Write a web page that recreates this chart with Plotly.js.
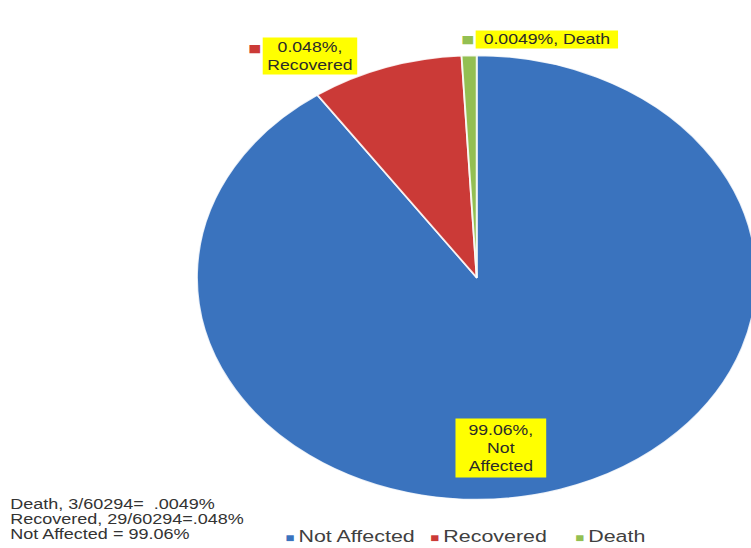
<!DOCTYPE html>
<html>
<head>
<meta charset="utf-8">
<script src="https://cdn.plot.ly/plotly-3.0.1.min.js"></script>
<style>
  html, body { margin: 0; padding: 0; width: 751px; height: 548px; overflow: hidden; background: #ffffff; }
  #chart { width: 620px; height: 548px; transform: scaleX(1.26); transform-origin: 0 0; }
</style>
</head>
<body>
<div id="chart"></div>
<script>
// ---- data ----
var categories   = ['Not Affected', 'Recovered', 'Death'];
var sliceValues  = [90.36, 8.78, 0.86];          // visible slice sizes as drawn
var pctLabels    = ['99.06%', '0.048%', '0.0049%'];
var sliceColors  = ['#3a73be', '#cb3a37', '#93bf52'];
var noteLines    = ['Death, 3/60294=  .0049%', 'Recovered, 29/60294=.048%', 'Not Affected = 99.06%'];

var traces = [{
  type: 'pie',
  labels: categories,
  values: sliceValues,
  sort: false,
  direction: 'clockwise',
  rotation: 0,
  textinfo: 'none',
  hoverinfo: 'label+percent',
  showlegend: false,
  marker: { colors: sliceColors, line: { color: 'rgba(255,255,255,0.85)', width: 1.5 } },
  domain: { x: [0.2521, 0.9683], y: [0.0885, 0.8987] }
}];

// legend entries: square key drawn tight against the name, like the original
categories.forEach(function (c, i) {
  traces.push({
    type: 'scatter', mode: 'markers', x: [null], y: [null],
    name: '<span style="color:' + sliceColors[i] + ';font-size:12px">■ </span>' + c,
    marker: { symbol: 'square', size: 7, color: 'rgba(255,255,255,0)', line: { width: 0, color: 'rgba(255,255,255,0)' } },
    hoverinfo: 'skip'
  });
});

var labelFont = { family: 'Liberation Sans, Arial, sans-serif', size: 14, color: '#2a2a2a' };
var annotations = [
  { text: pctLabels[1] + ',<br>' + categories[1], x: 0.3962, y: 0.8978, width: 74, height: 36 },
  { text: pctLabels[2] + ', ' + categories[2], x: 0.6996, y: 0.9279, width: 112, height: 17 },
  { text: pctLabels[0] + ',<br>Not<br>Affected', x: 0.6407, y: 0.1825, width: 71, height: 58 }
].map(function (a) {
  return {
    xref: 'paper', yref: 'paper', x: a.x, y: a.y, xanchor: 'center', yanchor: 'middle',
    text: a.text, showarrow: false, bgcolor: '#ffff00', borderpad: 0,
    width: a.width, height: a.height, align: 'center', font: labelFont
  };
});

// colour keys beside the data labels
annotations.push({ xref: 'paper', yref: 'paper', x: 0.3150, y: 0.9265, text: '■', showarrow: false,
  font: { family: 'DejaVu Sans', size: 11, color: sliceColors[1] } });
annotations.push({ xref: 'paper', yref: 'paper', x: 0.5990, y: 0.9440, text: '■', showarrow: false,
  font: { family: 'DejaVu Sans', size: 11, color: sliceColors[2] } });

// note lines at bottom-left
var noteY = [0.0800, 0.0535, 0.0262];
noteLines.forEach(function (t, i) {
  annotations.push({
    xref: 'paper', yref: 'paper', x: 0.0100, y: noteY[i], xanchor: 'left', yanchor: 'middle',
    text: t, showarrow: false,
    font: { family: 'Liberation Sans, Arial, sans-serif', size: 14.3, color: '#333333' }
  });
});

var layout = {
  width: 620, height: 548,
  margin: { l: 0, r: 0, t: 0, b: 0, autoexpand: false },
  paper_bgcolor: '#ffffff', plot_bgcolor: 'rgba(0,0,0,0)',
  xaxis: { visible: false }, yaxis: { visible: false },
  showlegend: true,
  legend: {
    orientation: 'h', x: 0.3005, y: 0.0219, xanchor: 'left', yanchor: 'middle',
    font: { family: 'Liberation Sans, Arial, sans-serif', size: 17, color: '#404040' },
    bgcolor: 'rgba(0,0,0,0)', itemwidth: 30, tracegroupgap: 0,
    entrywidth: 70, entrywidthmode: 'pixels'
  },
  annotations: annotations
};

Plotly.newPlot('chart', traces, layout, { displayModeBar: false, responsive: false });
</script>
</body>
</html>
